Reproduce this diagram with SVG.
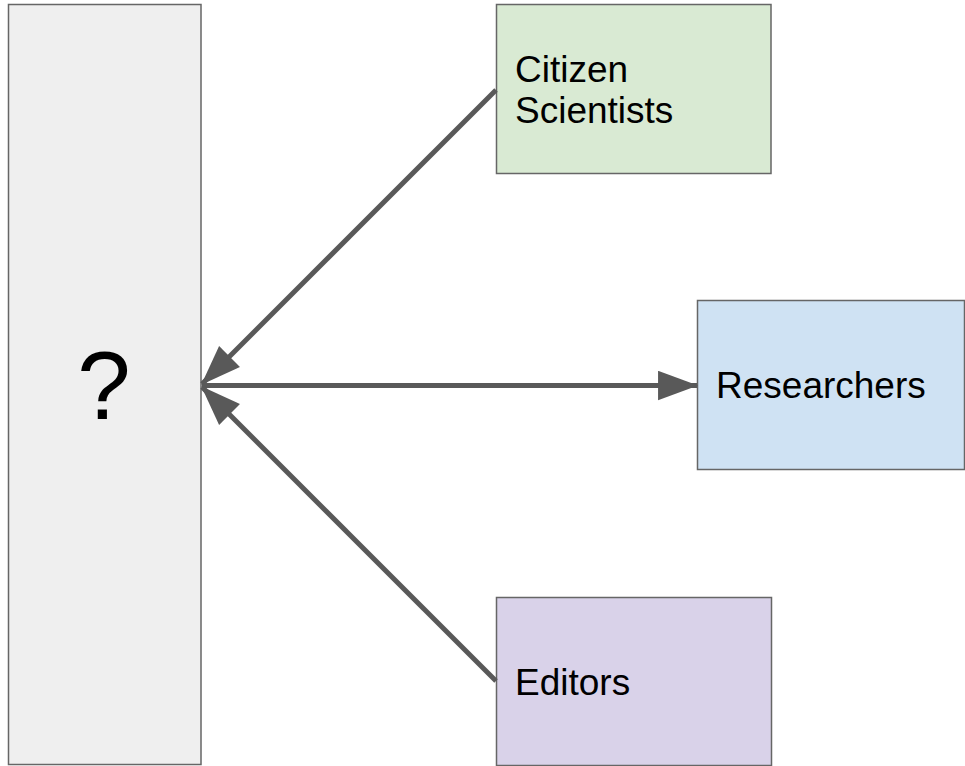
<svg xmlns="http://www.w3.org/2000/svg" width="965" height="766" viewBox="0 0 965 766">
<style>
.box{stroke:#666;stroke-width:1.5}
.lbl{font-family:"Liberation Sans",Arial,sans-serif;font-size:37px;fill:#000}
.conn{stroke:#595959;stroke-width:5;fill:none}
</style>
<defs>
<marker id="ah" markerUnits="userSpaceOnUse" markerWidth="40" markerHeight="30" viewBox="0 0 38 28" refX="37" refY="14" orient="auto">
<path d="M0,0 L38,14 L0,28 Z" fill="#595959"/>
</marker>
</defs>
<rect width="965" height="766" fill="#fff"/>
<g id="unknown">
<rect class="box" x="8.5" y="4.5" width="192.5" height="760" fill="#efefef"/>
<text class="lbl" x="104" y="419" text-anchor="middle" style="font-size:96px">?</text>
</g>
<g id="citizen">
<rect class="box" x="496.5" y="4.5" width="274.5" height="169" fill="#d9ead3"/>
<text class="lbl" x="515" y="82">Citizen</text>
<text class="lbl" x="515" y="123">Scientists</text>
</g>
<g id="researchers">
<rect class="box" x="697.5" y="300.5" width="267" height="169" fill="#cfe2f3"/>
<text class="lbl" x="716" y="398">Researchers</text>
</g>
<g id="editors">
<rect class="box" x="496.5" y="597.5" width="275" height="168" fill="#d9d2e9"/>
<text class="lbl" x="515" y="695">Editors</text>
</g>
<g id="connectors">
<line class="conn" x1="496" y1="90" x2="202" y2="384" marker-end="url(#ah)"/>
<line class="conn" x1="202" y1="385.5" x2="697" y2="385.5" marker-end="url(#ah)"/>
<line class="conn" x1="496" y1="681" x2="202" y2="387" marker-end="url(#ah)"/>
</g>
</svg>
